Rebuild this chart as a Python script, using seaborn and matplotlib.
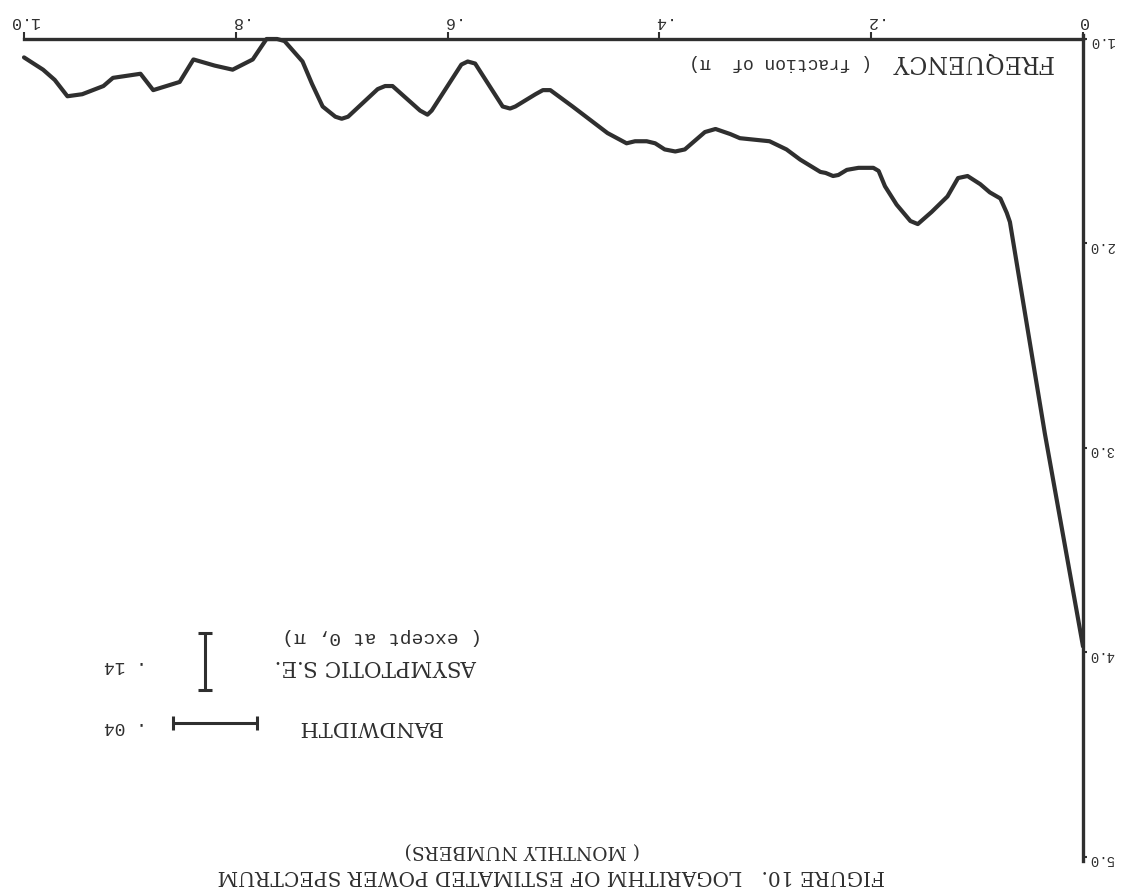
import matplotlib
matplotlib.use("Agg")
import matplotlib.pyplot as plt
import seaborn as sns
import pandas as pd

# Estimated log power spectrum (frequency as a fraction of pi)
freq = [0.000, 0.036, 0.069, 0.072, 0.078, 0.088, 0.097, 0.109, 0.118, 0.128,
        0.143, 0.156, 0.163, 0.176, 0.187, 0.193, 0.198, 0.212, 0.223, 0.231,
        0.236, 0.243, 0.248, 0.267, 0.280, 0.296, 0.324, 0.333, 0.347, 0.357,
        0.376, 0.385, 0.395, 0.404, 0.412, 0.423, 0.431, 0.449, 0.482, 0.503,
        0.510, 0.517, 0.536, 0.541, 0.548, 0.574, 0.581, 0.587, 0.615, 0.619,
        0.626, 0.652, 0.659, 0.666, 0.694, 0.700, 0.706, 0.718, 0.728, 0.737,
        0.754, 0.761, 0.771, 0.784, 0.803, 0.820, 0.840, 0.853, 0.878, 0.890,
        0.916, 0.925, 0.945, 0.959, 0.971, 0.982, 1.000]
log_power = [3.97, 2.93, 1.895, 1.85, 1.78, 1.75, 1.71, 1.67, 1.68, 1.77,
             1.846, 1.905, 1.89, 1.81, 1.72, 1.645, 1.63, 1.63, 1.64, 1.665,
             1.67, 1.655, 1.65, 1.59, 1.54, 1.50, 1.485, 1.465, 1.44, 1.455,
             1.54, 1.55, 1.54, 1.51, 1.50, 1.50, 1.51, 1.46, 1.33, 1.25,
             1.25, 1.27, 1.33, 1.34, 1.33, 1.12, 1.11, 1.125, 1.35, 1.37,
             1.35, 1.23, 1.23, 1.245, 1.38, 1.39, 1.38, 1.33, 1.22, 1.11,
             1.01, 1.00, 1.00, 1.10, 1.15, 1.13, 1.10, 1.21, 1.25, 1.17,
             1.19, 1.23, 1.27, 1.28, 1.20, 1.15, 1.09]

x_ticks = [0.0, 0.2, 0.4, 0.6, 0.8, 1.0]
x_tick_labels = ["0", ".2", ".4", ".6", ".8", "1.0"]
y_ticks = [1.0, 2.0, 3.0, 4.0, 5.0]
y_tick_labels = ["1.0", "2.0", "3.0", "4.0", "5.0"]

bandwidth = 0.04        # cycles; drawn as 2*bandwidth in fraction-of-pi units
asymptotic_se = 0.14    # drawn as +/- one standard error

ink = "#2f2f2f"
serif = ["DejaVu Serif"]
mono = ["Liberation Mono", "DejaVu Sans Mono"]

sns.set_style("white")
plt.rcParams["font.family"] = serif

df = pd.DataFrame({"freq": freq, "log_power": log_power})

fig = plt.figure(figsize=(11.28, 8.95), dpi=100)
fig.patch.set_facecolor("white")
ax = fig.add_axes([24 / 1128, 1 - 858 / 895, 1059 / 1128, 818 / 895])

sns.lineplot(data=df, x="freq", y="log_power", ax=ax, color=ink, linewidth=3.0,
             sort=False, estimator=None, clip_on=False)
for line in ax.lines:
    line.set_solid_joinstyle("round")
    line.set_solid_capstyle("round")

# The whole plate is printed upside down: both axes reversed, text turned 180 deg
ax.set_xlim(1.0, 0.0)
ax.set_ylim(5.0, 1.0)
ax.set_xlabel("")
ax.set_ylabel("")

for side in ["left", "bottom"]:
    ax.spines[side].set_visible(False)
for side in ["top", "right"]:
    ax.spines[side].set_visible(True)
    ax.spines[side].set_linewidth(2.4)
    ax.spines[side].set_color(ink)
ax.spines["right"].set_bounds(0.98, 5.02)

ax.xaxis.tick_top()
ax.yaxis.tick_right()
ax.set_xticks(x_ticks)
ax.set_xticklabels(x_tick_labels, rotation=180, fontsize=12, family=mono)
ax.set_yticks(y_ticks)
ax.set_yticklabels(y_tick_labels, rotation=180, fontsize=10, family=mono)
ax.tick_params(axis="x", direction="out", length=5, width=1.5, color=ink,
               labelcolor=ink, pad=3)
ax.tick_params(axis="y", direction="out", length=3, width=1.5, color=ink,
               labelcolor=ink, pad=1.5)
ax.grid(False)

# Axis title, printed inside the frame
ax.text(0.029, 1.108, "FREQUENCY", rotation=180, ha="right", va="center",
        fontsize=17, color=ink)
ax.text(0.199, 1.108, "( fraction of  \u03c0)", rotation=180, ha="right",
        va="center", fontsize=13, color=ink, family=mono)

# Bandwidth bar
bw_center, bw_level = 0.8196, 4.345
ax.errorbar([bw_center], [bw_level], xerr=[bandwidth], color=ink, lw=2.2,
            capsize=5, capthick=2.2, fmt="none")
ax.text(0.605, bw_level + 0.01, "BANDWIDTH", rotation=180, ha="right",
        va="center", fontsize=15, color=ink)
ax.text(0.884, bw_level + 0.01, ". 04", rotation=180, ha="right",
        va="center", fontsize=13, color=ink, family=mono)

# Asymptotic standard error bar
se_center_f, se_center_v = 0.829, 4.044
ax.errorbar([se_center_f], [se_center_v], yerr=[asymptotic_se], color=ink,
            lw=2.2, capsize=5, capthick=2.2, fmt="none")
ax.text(0.572, 4.06, "ASYMPTOTIC S.E.", rotation=180, ha="right",
        va="center", fontsize=15.5, color=ink)
ax.text(0.5675, 3.915, "( except at 0, \u03c0)", rotation=180, ha="right",
        va="center", fontsize=14, color=ink, family=mono)
ax.text(0.884, 4.06, ". 14", rotation=180, ha="right",
        va="center", fontsize=13, color=ink, family=mono)

# Caption (upside down at the foot of the plate)
fig.text(885 / 1128, 1 - 876 / 895,
         "FIGURE 10.   LOGARITHM OF ESTIMATED POWER SPECTRUM", rotation=180,
         ha="right", va="center", fontsize=14.5, color=ink)
fig.text(640 / 1128, 1 - 850 / 895, "( MONTHLY NUMBERS)", rotation=180,
         ha="right", va="center", fontsize=13.5, color=ink)

fig.savefig("out.png", dpi=100, facecolor="white")
